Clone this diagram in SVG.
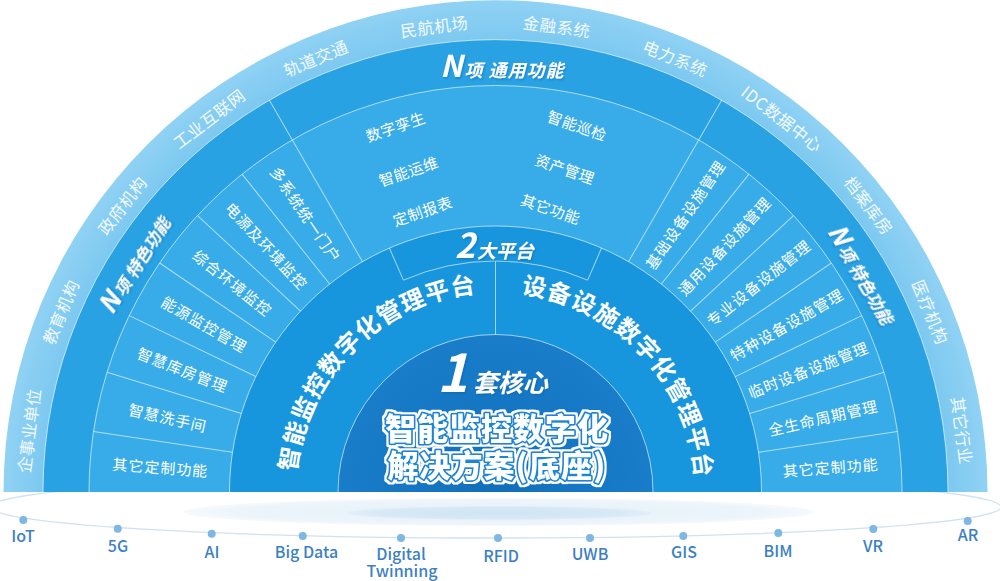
<svg xmlns="http://www.w3.org/2000/svg" width="1000" height="581" viewBox="0 0 1000 581">
<defs>
<style>
.cn{font-family:"Noto Sans CJK SC","Noto Sans",sans-serif;fill:#fff}
.ol{font-size:16.5px;letter-spacing:0.5px;fill:#f2faff;text-anchor:middle;dominant-baseline:central}
.cell{font-size:15px;letter-spacing:1px;text-anchor:middle;dominant-baseline:central}
.top{font-size:15px;letter-spacing:0.4px;text-anchor:middle;dominant-baseline:central}
.ttl{font-weight:700;font-style:italic}
.ln{stroke:#fff;stroke-opacity:.6;stroke-width:1;fill:none}
.tech{font-family:"Noto Sans CJK SC","Noto Sans",sans-serif;font-size:16px;font-weight:500;fill:#3c80c4;text-anchor:middle}
.dot{fill:#7fb7e3}
.plat{font-size:24px;font-weight:700;letter-spacing:1px}
.big{font-size:31px;font-weight:900;text-anchor:middle;letter-spacing:1px;stroke:#1a86d6;stroke-width:3.5px;stroke-linejoin:round;paint-order:stroke}
</style>
<radialGradient id="gOuter" gradientUnits="userSpaceOnUse" cx="495.5" cy="492" r="492">
<stop offset="0.9" stop-color="#78c6ef"/><stop offset="1" stop-color="#90d2f4"/>
</radialGradient>
<radialGradient id="gCore" gradientUnits="userSpaceOnUse" cx="495.5" cy="492" r="157.5">
<stop offset="0" stop-color="#106fbb"/><stop offset="1" stop-color="#197dca"/>
</radialGradient>
<radialGradient id="gDisc" cx="0.5" cy="0.5" r="0.5">
<stop offset="0" stop-color="#e4f0f9"/><stop offset="0.85" stop-color="#edf5fb"/><stop offset="1" stop-color="#f6fafd"/>
</radialGradient>
<radialGradient id="gDisc2" cx="0.5" cy="0.5" r="0.5">
<stop offset="0" stop-color="#cfe4f4"/><stop offset="0.8" stop-color="#d7e9f6"/><stop offset="1" stop-color="#e2eff9"/>
</radialGradient>
<filter id="sh" x="-20%" y="-40%" width="140%" height="180%">
<feDropShadow dx="1" dy="1.5" stdDeviation="1" flood-color="#0b5d9e" flood-opacity="0.45"/>
</filter>
<filter id="halo" x="-10%" y="-30%" width="120%" height="160%">
<feMorphology in="SourceAlpha" operator="dilate" radius="1.8" result="d"/>
<feFlood flood-color="#ffffff"/>
<feComposite in2="d" operator="in" result="w"/>
<feMerge><feMergeNode in="w"/><feMergeNode in="SourceGraphic"/></feMerge>
</filter>
<path id="pLeft" d="M295.5,492 A200,200 0 0 1 495.5,292"/>
<path id="pRight" d="M495.5,292 A200,200 0 0 1 695.5,492"/>
</defs>
<rect width="1000" height="581" fill="#fff"/>

<g id="base">
<ellipse cx="496" cy="507" rx="505" ry="31" fill="none" stroke="#cfe2f1" stroke-width="1.3"/>
<ellipse cx="499" cy="512" rx="316" ry="14" fill="url(#gDisc)"/>
<ellipse cx="499" cy="513" rx="153" ry="7" fill="url(#gDisc2)"/>
</g>

<g id="rings">
<path d="M3.5,492 A492,492 0 0 1 987.5,492 Z" fill="url(#gOuter)"/>
<path d="M43,492 A452.5,452.5 0 0 1 948,492 Z" fill="#29a2e4"/>
<path d="M89,492 A406.5,406.5 0 0 1 902,492 Z" fill="#38ace9"/>
<path d="M229.5,492 A266,266 0 0 1 761.5,492 Z" fill="#1796dd"/>
<path d="M338,492 A157.5,157.5 0 0 1 653,492 Z" fill="url(#gCore)"/>
</g>

<g id="connectors">
<path class="ln" d="M43,492 A452.5,452.5 0 0 1 948,492"/>
<path class="ln" d="M89,492 A406.5,406.5 0 0 1 902,492"/>
<path class="ln" d="M229.5,492 A266,266 0 0 1 761.5,492"/>
<path class="ln" d="M338,492 A157.5,157.5 0 0 1 653,492"/>
<line class="ln" x1="229.5" y1="492" x2="43" y2="492" transform="rotate(60 495.5 492)"/>
<line class="ln" x1="761.5" y1="492" x2="948" y2="492" transform="rotate(-60 495.5 492)"/>
<g id="left-dividers">
<line class="ln" x1="229.5" y1="492" x2="89" y2="492" transform="rotate(8.5714 495.5 492)"/>
<line class="ln" x1="229.5" y1="492" x2="89" y2="492" transform="rotate(17.1429 495.5 492)"/>
<line class="ln" x1="229.5" y1="492" x2="89" y2="492" transform="rotate(25.7143 495.5 492)"/>
<line class="ln" x1="229.5" y1="492" x2="89" y2="492" transform="rotate(34.2857 495.5 492)"/>
<line class="ln" x1="229.5" y1="492" x2="89" y2="492" transform="rotate(42.8571 495.5 492)"/>
<line class="ln" x1="229.5" y1="492" x2="89" y2="492" transform="rotate(51.4286 495.5 492)"/>
</g>
<g id="right-dividers">
<line class="ln" x1="761.5" y1="492" x2="902" y2="492" transform="rotate(-8.5714 495.5 492)"/>
<line class="ln" x1="761.5" y1="492" x2="902" y2="492" transform="rotate(-17.1429 495.5 492)"/>
<line class="ln" x1="761.5" y1="492" x2="902" y2="492" transform="rotate(-25.7143 495.5 492)"/>
<line class="ln" x1="761.5" y1="492" x2="902" y2="492" transform="rotate(-34.2857 495.5 492)"/>
<line class="ln" x1="761.5" y1="492" x2="902" y2="492" transform="rotate(-42.8571 495.5 492)"/>
<line class="ln" x1="761.5" y1="492" x2="902" y2="492" transform="rotate(-51.4286 495.5 492)"/>
</g>
<g id="tab-lines">
<line class="ln" x1="264.5" y1="492" x2="229.5" y2="492" transform="rotate(66.5 495.5 492)"/>
<line class="ln" x1="726.5" y1="492" x2="761.5" y2="492" transform="rotate(-66.5 495.5 492)"/>
<path class="ln" d="M403.39,280.16 A231,231 0 0 1 587.61,280.16"/>
<line class="ln" x1="495.5" y1="261" x2="495.5" y2="334.5"/>
</g>
</g>

<g id="industries" class="cn">
<text class="ol" x="495.5" y="21" transform="rotate(-82.5 495.5 492)">企事业单位</text>
<text class="ol" x="495.5" y="21" transform="rotate(-67.5 495.5 492)">教育机构</text>
<text class="ol" x="495.5" y="21" transform="rotate(-52.5 495.5 492)">政府机构</text>
<text class="ol" x="495.5" y="21" transform="rotate(-37.5 495.5 492)">工业互联网</text>
<text class="ol" x="495.5" y="22" transform="rotate(-22.5 495.5 492)">轨道交通</text>
<text class="ol" x="495.5" y="22" transform="rotate(-7.5 495.5 492)">民航机场</text>
<text class="ol" x="495.5" y="22" transform="rotate(7.5 495.5 492)">金融系统</text>
<text class="ol" x="495.5" y="22" transform="rotate(22.5 495.5 492)">电力系统</text>
<text class="ol" x="495.5" y="21" transform="rotate(37.5 495.5 492)">IDC数据中心</text>
<text class="ol" x="495.5" y="21" transform="rotate(52.5 495.5 492)">档案库房</text>
<text class="ol" x="495.5" y="21" transform="rotate(67.5 495.5 492)">医疗机构</text>
<text class="ol" x="495.5" y="21" transform="rotate(82.5 495.5 492)">其它行业</text>
</g>

<g id="n-general" class="cn">
<text class="ttl" x="440" y="77" filter="url(#sh)"><tspan font-size="30">N</tspan><tspan font-size="18" letter-spacing="1" dx="2">项 通用功能</tspan></text>
<text class="top" transform="translate(395.3 126.2) rotate(-19)">数字孪生</text>
<text class="top" transform="translate(408.3 170.7) rotate(-19)">智能运维</text>
<text class="top" transform="translate(422.3 210.7) rotate(-19)">定制报表</text>
<text class="top" transform="translate(577.3 125) rotate(19)">智能巡检</text>
<text class="top" transform="translate(565 168.3) rotate(19)">资产管理</text>
<text class="top" transform="translate(550.7 208.3) rotate(19)">其它功能</text>
</g>

<g id="n-left" class="cn">
<text class="ttl" x="495.5" y="74" text-anchor="middle" transform="rotate(-57.8 495.5 492)" filter="url(#sh)"><tspan font-size="26">N</tspan><tspan font-size="17" dx="2">项 特色功能</tspan></text>
<text class="cell" x="159.5" y="492" transform="rotate(4.2857 495.5 492)">其它定制功能</text>
<text class="cell" x="159.5" y="492" transform="rotate(12.8571 495.5 492)">智慧洗手间</text>
<text class="cell" x="159.5" y="492" transform="rotate(21.4286 495.5 492)">智慧库房管理</text>
<text class="cell" x="159.5" y="492" transform="rotate(30 495.5 492)">能源监控管理</text>
<text class="cell" x="159.5" y="492" transform="rotate(38.5714 495.5 492)">综合环境监控</text>
<text class="cell" x="159.5" y="492" transform="rotate(47.1429 495.5 492)">电源及环境监控</text>
<text class="cell" x="159.5" y="492" transform="rotate(55.7143 495.5 492)">多系统统一门户</text>
</g>

<g id="n-right" class="cn">
<text class="ttl" x="495.5" y="74" text-anchor="middle" transform="rotate(59.3 495.5 492)" filter="url(#sh)"><tspan font-size="26">N</tspan><tspan font-size="17" dx="2">项 特色功能</tspan></text>
<text class="cell" x="831.5" y="492" transform="rotate(-4.2857 495.5 492)">其它定制功能</text>
<text class="cell" x="831.5" y="492" transform="rotate(-12.8571 495.5 492)">全生命周期管理</text>
<text class="cell" x="831.5" y="492" transform="rotate(-21.4286 495.5 492)">临时设备设施管理</text>
<text class="cell" x="831.5" y="492" transform="rotate(-30 495.5 492)">特种设备设施管理</text>
<text class="cell" x="831.5" y="492" transform="rotate(-38.5714 495.5 492)">专业设备设施管理</text>
<text class="cell" x="831.5" y="492" transform="rotate(-47.1429 495.5 492)">通用设备设施管理</text>
<text class="cell" x="831.5" y="492" transform="rotate(-55.7143 495.5 492)">基础设备设施管理</text>
</g>

<g id="platforms" class="cn">
<text class="ttl" x="455" y="258" filter="url(#sh)"><tspan font-size="34">2</tspan><tspan font-size="19" dx="2">大平台</tspan></text>
<text class="plat" text-anchor="middle"><textPath href="#pLeft" startOffset="50.2%">智能监控数字化管理平台</textPath></text>
<text class="plat" text-anchor="middle"><textPath href="#pRight" startOffset="51.9%">设备设施数字化管理平台</textPath></text>
</g>

<g id="core" class="cn">
<text class="ttl" x="437" y="392" filter="url(#sh)"><tspan font-size="52">1</tspan><tspan font-size="25" dx="5">套核心</tspan></text>
<text class="big" x="497" y="440" filter="url(#halo)">智能监控数字化</text>
<text class="big" x="497" y="477" filter="url(#halo)">解决方案(底座)</text>
</g>

<g id="tech">
<circle class="dot" cx="23.3" cy="520" r="4"/>
<circle class="dot" cx="117.7" cy="528.7" r="4"/>
<circle class="dot" cx="211.7" cy="533.7" r="4"/>
<circle class="dot" cx="302.7" cy="536" r="4"/>
<circle class="dot" cx="401" cy="538" r="4"/>
<circle class="dot" cx="498" cy="538" r="4"/>
<circle class="dot" cx="590" cy="538" r="4"/>
<circle class="dot" cx="683.3" cy="536" r="4"/>
<circle class="dot" cx="778.3" cy="533" r="4"/>
<circle class="dot" cx="873.3" cy="529" r="4"/>
<circle class="dot" cx="967.7" cy="521" r="4"/>
<text class="tech" x="23" y="541.5">IoT</text>
<text class="tech" x="118" y="551.5">5G</text>
<text class="tech" x="212" y="557.5">AI</text>
<text class="tech" x="306.5" y="558">Big Data</text>
<text class="tech" x="401" y="560">Digital</text>
<text class="tech" x="402" y="576.5">Twinning</text>
<text class="tech" x="501" y="562">RFID</text>
<text class="tech" x="590" y="560">UWB</text>
<text class="tech" x="684" y="558">GIS</text>
<text class="tech" x="778" y="556.5">BIM</text>
<text class="tech" x="873" y="551.5">VR</text>
<text class="tech" x="968" y="541">AR</text>
</g>
</svg>
